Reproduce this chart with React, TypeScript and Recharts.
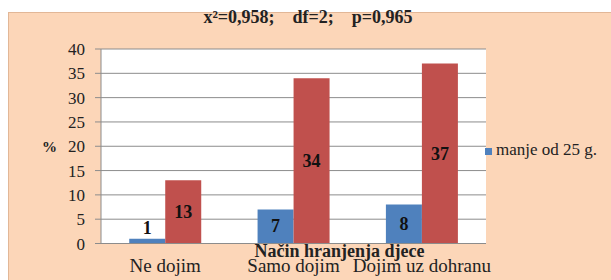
import React from 'react';
import { BarChart, Bar, XAxis, YAxis, CartesianGrid, Legend, LabelList } from 'recharts';

const categories = ['Ne dojim', 'Samo dojim', 'Dojim uz dohranu'];
const under25 = [1, 7, 8];
const over25 = [13, 34, 37];
const yTicks = [0, 5, 10, 15, 20, 25, 30, 35, 40];
const seriesNames = ['manje od 25 g.', 'više od 25 g.'];
const titleText = 'x\u00B2=0,958;    df=2;    p=0,965';
const xTitle = 'Način hranjenja  djece';

const data = categories.map((c, i) => ({ name: c, a: under25[i], b: over25[i] }));

const SERIF = 'Liberation Serif, Times New Roman, serif';

const makeLabel = (props: any) => {
  const { x, y, width, height, value } = props;
  const cx = Number(x) + Number(width) / 2;
  const h = Math.abs(Number(height));
  const cy = h < 22 ? Number(y) - 11 : Number(y) + Number(height) / 2;
  return (
    <text x={cx} y={cy} textAnchor="middle" dominantBaseline="central" fontFamily={SERIF} fontWeight="bold" fontSize={18} fill="#111">
      {value}
    </text>
  );
};

export default function App() {
  return (
    <div style={{ position: 'absolute', left: 0, top: 0, width: 611, height: 280, background: '#fff', overflow: 'hidden', fontFamily: SERIF }}>
      <div style={{ position: 'absolute', left: 8, top: 12, width: 620, height: 280, background: '#FCD6B8', borderLeft: '1px solid #E2B797', borderTop: '1px solid #E2B797' }} />
      <div style={{ position: 'absolute', left: 308, top: 7, transform: 'translateX(-50%)', fontFamily: SERIF, fontWeight: 'bold', fontSize: 18, color: '#222', whiteSpace: 'pre' }}>
        {titleText}
      </div>
      <div style={{ position: 'absolute', left: 0, top: 0 }}>
        <BarChart width={611} height={280} data={data} margin={{ top: 49, right: 125, bottom: 0, left: 0 }} barCategoryGap="22%" barGap={0} style={{ fontFamily: SERIF }}>
          <CartesianGrid vertical={false} stroke="#8c8c8c" strokeWidth={1} fill="#ffffff" />
          <XAxis
            dataKey="name"
            height={36.5}
            tickLine={false}
            tickSize={0}
            tickMargin={15}
            axisLine={{ stroke: '#8c8c8c' }}
            tick={{ fontFamily: SERIF, fontSize: 19, fill: '#222' }}
            interval={0}
            label={{ value: xTitle, position: 'insideTop', dx: 46, offset: 1, style: { fontFamily: SERIF, fontWeight: 'bold', fontSize: 18, fill: '#222' } }}
          />
          <YAxis
            width={101}
            domain={[0, 40]}
            ticks={yTicks}
            interval={0}
            tickSize={6}
            tickMargin={10}
            tickLine={{ stroke: '#8c8c8c' }}
            axisLine={{ stroke: '#8c8c8c' }}
            tick={{ fontFamily: SERIF, fontSize: 17, fill: '#222' }}
            label={{ value: '%', position: 'insideLeft', offset: 42, angle: 0, style: { fontFamily: SERIF, fontWeight: 'bold', fontSize: 15, fill: '#222', textAnchor: 'start' } }}
          />
          <Legend
            layout="vertical"
            align="center"
            verticalAlign="middle"
            iconType="square"
            iconSize={7}
            wrapperStyle={{ left: 485, top: 140, width: 150, fontFamily: SERIF, fontSize: 17, color: '#222', textAlign: 'left', whiteSpace: 'nowrap' }}
            formatter={(v: any) => <span style={{ color: '#222', fontFamily: SERIF, whiteSpace: 'nowrap' }}>{v}</span>}
          />
          <Bar dataKey="a" name={seriesNames[0]} fill="#4F81BD" isAnimationActive={false}>
            <LabelList dataKey="a" content={makeLabel} />
          </Bar>
          <Bar dataKey="b" name={seriesNames[1]} fill="#C0504D" legendType="none" isAnimationActive={false}>
            <LabelList dataKey="b" content={makeLabel} />
          </Bar>
        </BarChart>
      </div>
    </div>
  );
}
